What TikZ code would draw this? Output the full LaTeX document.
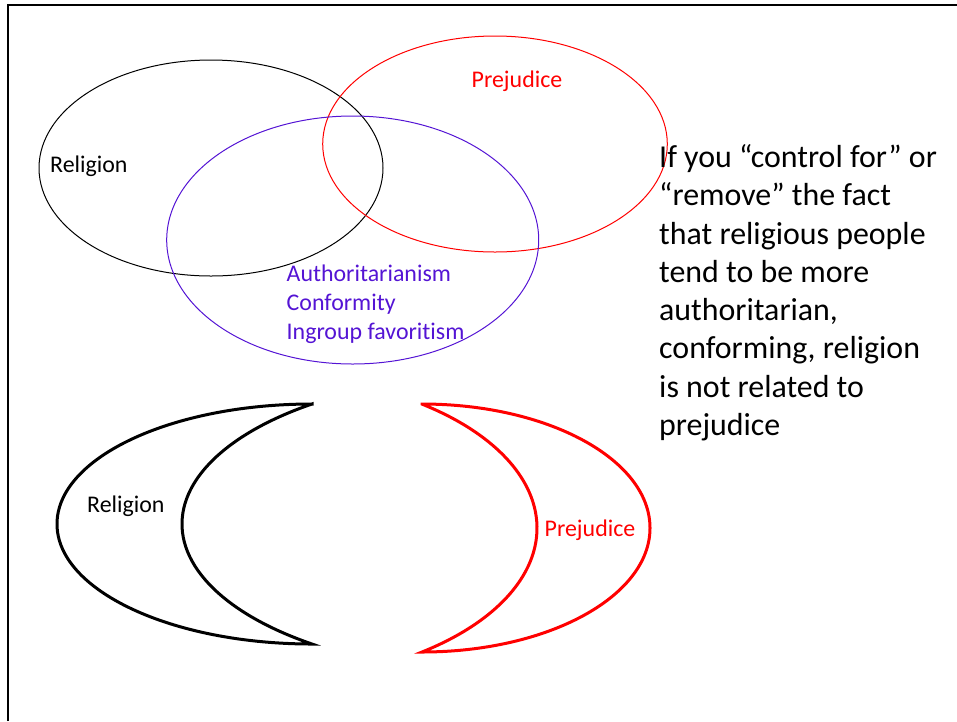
\documentclass[tikz,border=0pt]{standalone}
\usepackage{fontspec}
\setmainfont{Carlito}[Ligatures=NoCommon]
\definecolor{authblue}{RGB}{84,20,212}
\begin{document}
\begin{tikzpicture}[x=1pt,y=-1pt,
  small/.style={inner sep=0pt, anchor=base west, font=\fontsize{23.9}{28.7}\selectfont},
  big/.style={inner sep=0pt, anchor=base west, align=left, font=\fontsize{31.9}{38.3}\selectfont},
  ring/.style={line width=1pt},
  moon/.style={line width=3pt, line join=miter}]
\useasboundingbox (0,0) rectangle (957,721);
% frame
\draw [line width=2.3pt] (8.3,721) -- (8.3,5.3) -- (957,5.3);
% overlapping ellipses
\draw [ring] (211,168) ellipse [x radius=172, y radius=108];
\draw [ring, red] (495,144) ellipse [x radius=172.3, y radius=108];
\draw [ring, authblue] (352.7,240) ellipse [x radius=186, y radius=124];
\node [small] (relig) at (50,172.5) {Religion};
\node [small, red] (prej) at (471.5,87.5) {Prejudice};
% multi-line nodes sit on their last baseline
\node [small, authblue, align=left] (traits) at (286.5,339) {Authoritarianism\\Conformity\\Ingroup favoritism};
% explanation
\node [big] (note) at (659,435.5) {If you “control for” or\\“remove” the fact\\that religious people\\tend to be more\\authoritarian,\\conforming, religion\\is not related to\\prejudice};
% crescents
\coordinate (btop) at (312,404);
\coordinate (rtop) at (422,404);
\draw [moon] (btop) arc [start angle=270, end angle=90, x radius=255, y radius=120]
  arc [start angle=126.24, end angle=233.76, x radius=318, y radius=148.8] -- cycle;
\draw [moon, red] (rtop) arc [start angle=270, end angle=450, x radius=228, y radius=124]
  arc [start angle=53.75, end angle=-53.75, x radius=281.4, y radius=153.7] -- cycle;
\node [small] (relig2) at (87,512.5) {Religion};
\node [small, red] (prej2) at (544.5,536.5) {Prejudice};
\end{tikzpicture}
\end{document}
